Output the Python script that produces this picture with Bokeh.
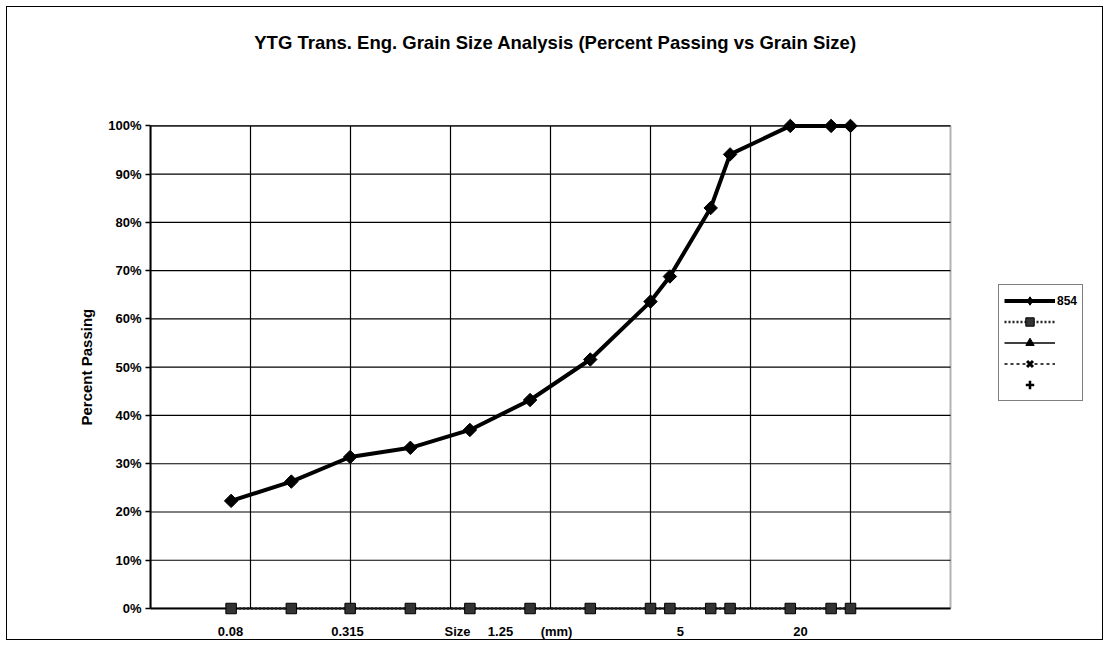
import math
from bokeh.plotting import figure
from bokeh.models import FixedTicker, Legend, LegendItem, Label, BoxAnnotation, Title
from bokeh.embed import file_html
from bokeh.resources import INLINE

# ---- data ----
grain_size_mm = [0.08, 0.16, 0.315, 0.63, 1.25, 2.5, 5, 10, 12.5, 20, 25, 50, 80, 100]
passing_854 = [22.3, 26.3, 31.4, 33.3, 37.0, 43.2, 51.6, 63.6, 68.8, 83.0, 94.1, 100, 100, 100]
passing_x = [0, 0, 0, 0, 0, 0, 0, 0, 0, 0, 0, 0, 0, 0]
empty_x = [math.nan]  # series with no values (legend only)
empty_y = [math.nan]

y_ticks = [0, 10, 20, 30, 40, 50, 60, 70, 80, 90, 100]
x_grid = [10 ** -1, 10 ** -0.5, 1, 10 ** 0.5, 10, 10 ** 1.5, 100]
x_min, x_max = 10 ** -1.5, 10 ** 2.5
y_min, y_max = 0, 100
x_label_text = ["0.08", "0.315", "Size", "1.25", "(mm)", "5", "20"]
x_label_pos = [0.0794, 0.3055, 1.084, 1.778, 3.39, 14.1, 56.2]

TITLE = "YTG Trans. Eng. Grain Size Analysis (Percent Passing vs Grain Size)"
Y_TITLE = "Percent Passing"
FONT = "Liberation Sans"

# frame: 946 px wide (200 px per decade), 601 px tall (4.85 px per %)
p = figure(width=1097, height=634, x_axis_type="log",
           x_range=(x_min, 10 ** (-1.5 + 946 / 200)), y_range=(0, 601 / 4.85),
           output_backend="svg", toolbar_location=None,
           min_border_left=143, min_border_right=8,
           min_border_top=3, min_border_bottom=30)
p.styles = {"border": "1px solid black", "margin-left": "6px", "margin-top": "6px"}
p.outline_line_color = None
p.grid.visible = False

# title
p.add_layout(Label(x=405, y=566, x_units="screen", y_units="screen", text=TITLE,
                   text_font=FONT, text_font_size="18.5px", text_font_style="bold",
                   text_color="black", text_align="center", text_baseline="middle"))

# grid lines inside the plot box
p.segment(x0=x_grid, y0=[y_min] * len(x_grid), x1=x_grid, y1=[y_max] * len(x_grid),
          line_color="black", line_width=1.2, level="underlay")
p.segment(x0=[x_min] * len(y_ticks), y0=y_ticks, x1=[x_max] * len(y_ticks), y1=y_ticks,
          line_color="black", line_width=1.2, level="underlay")
p.add_layout(BoxAnnotation(left=x_min, right=x_max, bottom=y_min, top=y_max,
                           fill_alpha=0, line_color="black", line_width=2, level="underlay"))

# y axis
p.yaxis.bounds = (y_min, y_max)
p.yaxis.ticker = FixedTicker(ticks=y_ticks)
p.yaxis.major_label_overrides = {t: f"{t}%" for t in y_ticks}
p.yaxis.major_label_text_font = FONT
p.yaxis.major_label_text_font_style = "bold"
p.yaxis.major_label_text_font_size = "13px"
p.yaxis.major_label_text_color = "black"
p.yaxis.major_tick_out = 5
p.yaxis.major_tick_in = 0
p.yaxis.major_tick_line_color = "black"
p.yaxis.major_tick_line_width = 1.5
p.yaxis.minor_tick_line_color = None
p.yaxis.axis_line_color = "black"
p.yaxis.axis_line_width = 2
p.yaxis.major_label_standoff = 4

# y axis title, centred on the 0-100 % span
p.add_layout(Title(text=Y_TITLE, align="left", offset=183, standoff=22,
                   text_font=FONT, text_font_style="bold", text_font_size="15px",
                   text_color="black"), "left")

# x axis (typed labels)
p.xaxis.bounds = (x_min, x_max)
p.xaxis.ticker = FixedTicker(ticks=x_label_pos)
p.xaxis.major_label_overrides = dict(zip(x_label_pos, x_label_text))
p.xaxis.major_label_text_font = FONT
p.xaxis.major_label_text_font_style = "bold"
p.xaxis.major_label_text_font_size = "13px"
p.xaxis.major_label_text_color = "black"
p.xaxis.major_tick_line_color = None
p.xaxis.minor_tick_line_color = None
p.xaxis.axis_line_color = "black"
p.xaxis.axis_line_width = 2
p.xaxis.major_label_standoff = 9

# series
r2_line = p.line(grain_size_mm, passing_x, line_color="#222222", line_width=2.5, line_dash="2 2", level="overlay")
r2_pts = p.scatter(grain_size_mm, passing_x, marker="square", size=10.5,
                   fill_color="#333333", line_color="black", line_width=1, level="overlay")

r1_line = p.line(grain_size_mm, passing_854, line_color="black", line_width=4, level="overlay")
r1_pts = p.scatter(grain_size_mm, passing_854, marker="square", angle=0.785398, size=9.5,
                   fill_color="black", line_color="black", level="overlay")
r1_key = p.scatter(empty_x, empty_y, marker="diamond", size=13, fill_color="black", line_color="black")

# series without values (legend only)
r3_line = p.line(empty_x, empty_y, line_color="black", line_width=1.5)
r3_pts = p.scatter(empty_x, empty_y, marker="triangle", size=10, fill_color="black", line_color="black")
r4_line = p.line(empty_x, empty_y, line_color="black", line_width=1.5, line_dash="3 3")
r4_pts = p.scatter(empty_x, empty_y, marker="x", size=12, line_color="black", line_width=3)
r5_pts = p.scatter(empty_x, empty_y, marker="cross", size=11, line_color="black", line_width=2.5)

legend = Legend(items=[
    LegendItem(label="854", renderers=[r1_line, r1_key]),
    LegendItem(label=" ", renderers=[r2_line, r2_pts]),
    LegendItem(label=" ", renderers=[r3_line, r3_pts]),
    LegendItem(label=" ", renderers=[r4_line, r4_pts]),
    LegendItem(label=" ", renderers=[r5_pts]),
], location=(848, 207))
legend.border_line_color = "black"
legend.border_line_width = 1.5
legend.background_fill_color = "white"
legend.label_text_font = FONT
legend.label_text_font_style = "bold"
legend.label_text_font_size = "12px"
legend.label_text_color = "black"
legend.glyph_width = 51
legend.glyph_height = 21
legend.spacing = -2
legend.padding = 5
legend.margin = 0
legend.label_standoff = 2
p.add_layout(legend, "center")

open("out.html", "w").write(file_html(p, INLINE))
